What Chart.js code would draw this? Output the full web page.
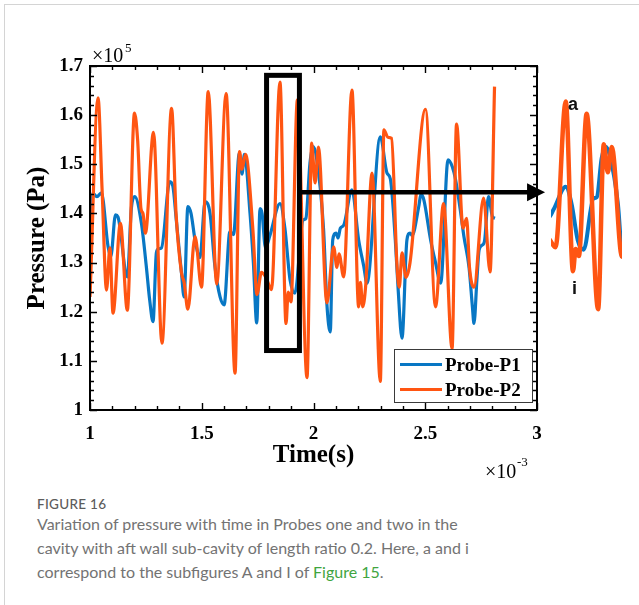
<!DOCTYPE html>
<html>
<head>
<meta charset="utf-8">
<script src="https://cdn.jsdelivr.net/npm/chart.js@4.4.1/dist/chart.umd.min.js"></script>
<style>
  html, body { margin: 0; padding: 0; background: #fff; }
  body { width: 639px; height: 605px; position: relative; overflow: hidden; }
  .card { position: absolute; left: 4px; top: 4px; width: 640px; height: 610px;
          border-left: 1px solid #d4d4d4; border-top: 1px solid #d4d4d4; }
  #main { position: absolute; left: 0; top: 0; }
  #inset { position: absolute; left: 551px; top: 90px; }
  .serif { position: absolute; font-family: "Liberation Serif", "DejaVu Serif", serif; color: #000; white-space: nowrap; line-height: 1; }
  .legend { position: absolute; left: 394px; top: 349px; width: 139px; height: 54px;
            border: 1.5px solid #3a3a3a; background: #fff; box-sizing: border-box; }
  .legend .row { position: absolute; left: 5px; height: 20px; }
  .legend .sw { position: absolute; left: 0; top: 10px; width: 42px; height: 3px; }
  .legend .tx { position: absolute; left: 45px; top: 1px; font: bold 19px "Liberation Serif", serif; white-space: nowrap; }
  .tag { position: absolute; font: bold 18px "Liberation Sans", Arial, sans-serif; color: #111; line-height: 1; }
  .figno { position: absolute; left: 37px; top: 495px; font: 500 13.5px Lato, "Open Sans", sans-serif; color: #5c5c5c; line-height: 18px; letter-spacing: 0.3px; }
  .caption { position: absolute; left: 37px; top: 512px; width: 600px; font: 400 16px Lato, "Open Sans", sans-serif;
             color: #737373; line-height: 24px; white-space: nowrap; }
  .caption a { color: #3fa53f; text-decoration: none; }
</style>
</head>
<body>
<div class="card"></div>
<canvas id="main" width="639" height="490"></canvas>
<canvas id="inset" width="71" height="242"></canvas>

<div class="serif" style="left:92px;top:45px;font-size:20px;">×10</div>
<div class="serif" style="left:125px;top:41px;font-size:13px;">5</div>
<div class="serif" style="left:485px;top:461px;font-size:20px;">×10</div>
<div class="serif" style="left:517px;top:455px;font-size:13px;">-3</div>

<div class="legend">
  <div class="row" style="top:3px;"><div class="sw" style="background:#0877C4"></div><div class="tx">Probe-P1</div></div>
  <div class="row" style="top:28px;"><div class="sw" style="background:#FF5512"></div><div class="tx">Probe-P2</div></div>
</div>

<div class="tag" style="left:568px;top:95px;">a</div>
<div class="tag" style="left:572px;top:279px;">i</div>

<div class="figno">FIGURE 16</div>
<div class="caption">Variation of pressure with time in Probes one and two in the<br>cavity with aft wall sub-cavity of length ratio 0.2. Here, a and i<br>correspond to the subfigures A and I of <a>Figure 15</a>.</div>

<script>
  // time in ms (axis shows x 10^-3 s), pressure in 10^5 Pa
  const p1Time = [1.000, 1.013, 1.031, 1.051, 1.081, 1.093, 1.114, 1.125, 1.167, 1.185, 1.200, 1.230, 1.252, 1.267, 1.282,
    1.297, 1.306, 1.320, 1.357, 1.371, 1.386, 1.409, 1.421, 1.438, 1.452, 1.470, 1.492, 1.515, 1.537, 1.559, 1.582, 1.600,
    1.626, 1.642, 1.668, 1.680, 1.691, 1.716, 1.731, 1.746, 1.761, 1.770, 1.785, 1.805, 1.850, 1.872, 1.895, 1.917, 1.953,
    1.966, 1.984, 1.998, 2.013, 2.045, 2.060, 2.075, 2.086, 2.101, 2.110, 2.120, 2.135, 2.172, 2.202, 2.225, 2.239, 2.299,
    2.329, 2.344, 2.366, 2.378, 2.396, 2.418, 2.432, 2.441, 2.471, 2.481, 2.494, 2.524, 2.546, 2.569, 2.602, 2.621, 2.636,
    2.659, 2.673, 2.696, 2.711, 2.718, 2.731, 2.741, 2.756, 2.766, 2.783, 2.801, 2.812];
  const p1Pressure = [1.285, 1.441, 1.434, 1.442, 1.332, 1.312, 1.397, 1.393, 1.271, 1.410, 1.434, 1.380, 1.292, 1.224, 1.180,
    1.320, 1.328, 1.330, 1.465, 1.455, 1.387, 1.280, 1.230, 1.414, 1.400, 1.346, 1.310, 1.424, 1.400, 1.292, 1.230, 1.214,
    1.363, 1.357, 1.522, 1.480, 1.520, 1.400, 1.300, 1.177, 1.410, 1.400, 1.330, 1.355, 1.420, 1.370, 1.265, 1.238, 1.386,
    1.390, 1.502, 1.536, 1.515, 1.368, 1.215, 1.159, 1.346, 1.360, 1.350, 1.370, 1.376, 1.448, 1.346, 1.292, 1.258, 1.556,
    1.482, 1.470, 1.346, 1.251, 1.146, 1.346, 1.360, 1.355, 1.414, 1.440, 1.427, 1.346, 1.300, 1.258, 1.509, 1.495, 1.468,
    1.400, 1.353, 1.290, 1.210, 1.176, 1.264, 1.326, 1.336, 1.346, 1.434, 1.393, 1.390];

  const p2Time = [1.000, 1.036, 1.054, 1.074, 1.089, 1.103, 1.136, 1.167, 1.199, 1.213, 1.228, 1.237, 1.248, 1.284, 1.322,
    1.365, 1.385, 1.409, 1.421, 1.438, 1.470, 1.499, 1.529, 1.567, 1.609, 1.649, 1.669, 1.680, 1.696, 1.729, 1.747, 1.767,
    1.787, 1.812, 1.850, 1.877, 1.887, 1.899, 1.928, 1.971, 1.992, 2.007, 2.022, 2.060, 2.090, 2.105, 2.114, 2.135, 2.172,
    2.202, 2.210, 2.220, 2.233, 2.262, 2.299, 2.315, 2.333, 2.349, 2.374, 2.384, 2.396, 2.414, 2.432, 2.501, 2.546, 2.582,
    2.620, 2.640, 2.669, 2.685, 2.698, 2.718, 2.761, 2.790, 2.810];
  const p2Pressure = [1.230, 1.635, 1.450, 1.244, 1.330, 1.197, 1.380, 1.203, 1.604, 1.550, 1.410, 1.400, 1.360, 1.565, 1.136,
    1.614, 1.400, 1.280, 1.260, 1.205, 1.353, 1.250, 1.648, 1.256, 1.644, 1.075, 1.526, 1.490, 1.520, 1.366, 1.235, 1.280,
    1.270, 1.245, 1.667, 1.176, 1.240, 1.220, 1.631, 1.066, 1.543, 1.462, 1.535, 1.218, 1.332, 1.290, 1.318, 1.271, 1.651,
    1.210, 1.260, 1.210, 1.250, 1.482, 1.058, 1.570, 1.555, 1.553, 1.290, 1.250, 1.320, 1.270, 1.300, 1.612, 1.210, 1.420,
    1.125, 1.582, 1.370, 1.390, 1.290, 1.250, 1.431, 1.281, 1.658];

  const xTickLabels = ["1", "1.5", "2", "2.5", "3"];
  const yTickLabels = ["1", "1.1", "1.2", "1.3", "1.4", "1.5", "1.6", "1.7"];

  // annotation: boxed window and zoom arrow (data units)
  const boxTime = [1.790, 1.937];
  const boxPressure = [1.121, 1.681];
  const arrowTime = [1.940, 3.036];
  const arrowPressure = 1.443;
  // window shown in the zoomed inset on the right
  const insetTime = [1.795, 2.060];

  const BLUE = "#0877C4";
  const ORANGE = "#FF5512";
  const SERIF = '"Liberation Serif", "DejaVu Serif", serif';

  const pts = (xs, ys) => xs.map((x, i) => ({ x, y: ys[i] }));

  function pickLabel(list, v) {
    const hit = list.find((l) => Math.abs(Number(l) - v) < 1e-6);
    return hit ?? "";
  }

  const frameTicks = {
    id: "frameTicks",
    afterDatasetsDraw(chart) {
      const { ctx, chartArea: a, scales: { x, y } } = chart;
      ctx.save();
      ctx.strokeStyle = "#000";
      ctx.lineWidth = 1.4;
      ctx.beginPath();
      x.ticks.forEach((t) => {
        const px = Math.round(x.getPixelForValue(t.value)) + 0.5;
        const len = t.label ? 7 : 4;
        ctx.moveTo(px, a.bottom); ctx.lineTo(px, a.bottom - len);
        ctx.moveTo(px, a.top); ctx.lineTo(px, a.top + len);
      });
      y.ticks.forEach((t) => {
        const py = Math.round(y.getPixelForValue(t.value)) + 0.5;
        const len = t.label ? 7 : 4;
        ctx.moveTo(a.left, py); ctx.lineTo(a.left + len, py);
        ctx.moveTo(a.right, py); ctx.lineTo(a.right - len, py);
      });
      ctx.stroke();
      ctx.lineWidth = 2;
      ctx.strokeRect(a.left, a.top, a.right - a.left, a.bottom - a.top);
      ctx.restore();
    },
  };

  const zoomMarks = {
    id: "zoomMarks",
    afterDraw(chart) {
      const { ctx, scales: { x, y } } = chart;
      ctx.save();
      ctx.strokeStyle = "#000";
      ctx.fillStyle = "#000";
      ctx.lineWidth = 5;
      const x0 = x.getPixelForValue(boxTime[0]), x1 = x.getPixelForValue(boxTime[1]);
      const y0 = y.getPixelForValue(boxPressure[1]), y1 = y.getPixelForValue(boxPressure[0]);
      ctx.strokeRect(x0, y0, x1 - x0, y1 - y0);

      const ay = y.getPixelForValue(arrowPressure);
      const ax0 = x.getPixelForValue(arrowTime[0]);
      const ax1 = x.getPixelForValue(arrowTime[1]);
      ctx.lineWidth = 4.5;
      ctx.beginPath();
      ctx.moveTo(ax0, ay); ctx.lineTo(ax1 - 14, ay);
      ctx.stroke();
      ctx.beginPath();
      ctx.moveTo(ax1, ay); ctx.lineTo(ax1 - 18, ay - 9); ctx.lineTo(ax1 - 18, ay + 9);
      ctx.closePath();
      ctx.fill();
      ctx.restore();
    },
  };

  const lineSet = (label, xs, ys, color, width, order) => ({
    label,
    data: pts(xs, ys),
    borderColor: color,
    borderWidth: width,
    pointRadius: 0,
    cubicInterpolationMode: "monotone",
    order,
  });

  new Chart(document.getElementById("main").getContext("2d"), {
    type: "line",
    data: {
      datasets: [
        lineSet("Probe-P1", p1Time, p1Pressure, BLUE, 3.2, 1),
        lineSet("Probe-P2", p2Time, p2Pressure, ORANGE, 3.2, 0),
      ],
    },
    options: {
      responsive: false,
      animation: false,
      layout: { padding: { left: 0, top: 66, right: 102, bottom: 0 } },
      plugins: { legend: { display: false }, tooltip: { enabled: false } },
      scales: {
        x: {
          type: "linear", min: 1, max: 3,
          afterFit: (s) => { s.height = 80; },
          grid: { display: false, drawTicks: false }, border: { display: false },
          ticks: {
            stepSize: 0.1, autoSkip: false, maxRotation: 0, padding: 13, color: "#000",
            font: { family: SERIF, size: 19, weight: "bold" },
            callback: (v) => pickLabel(xTickLabels, v),
          },
          title: { display: true, text: "Time(s)", color: "#000", padding: { top: 0, bottom: 19 },
                   font: { family: SERIF, size: 25, weight: "bold" } },
        },
        y: {
          type: "linear", min: 1, max: 1.7,
          afterFit: (s) => { s.width = 90; },
          grid: { display: false, drawTicks: false }, border: { display: false },
          ticks: {
            stepSize: 0.02, autoSkip: false, padding: 7, color: "#000",
            font: { family: SERIF, size: 19, weight: "bold" },
            callback: (v) => pickLabel(yTickLabels, v),
          },
          title: { display: true, text: "Pressure (Pa)", color: "#000", padding: { top: 23, bottom: 0 },
                   font: { family: SERIF, size: 25, weight: "bold" } },
        },
      },
    },
    plugins: [frameTicks, zoomMarks],
  });

  new Chart(document.getElementById("inset").getContext("2d"), {
    type: "line",
    data: {
      datasets: [
        lineSet("Probe-P1", p1Time, p1Pressure, BLUE, 4, 1),
        lineSet("Probe-P2", p2Time, p2Pressure, ORANGE, 4.5, 0),
      ],
    },
    options: {
      responsive: false,
      animation: false,
      layout: { padding: 0 },
      plugins: { legend: { display: false }, tooltip: { enabled: false } },
      scales: {
        x: { type: "linear", display: false, min: insetTime[0], max: insetTime[1] },
        y: { type: "linear", display: false, min: 1, max: 1.7 },
      },
    },
  });
</script>
</body>
</html>
